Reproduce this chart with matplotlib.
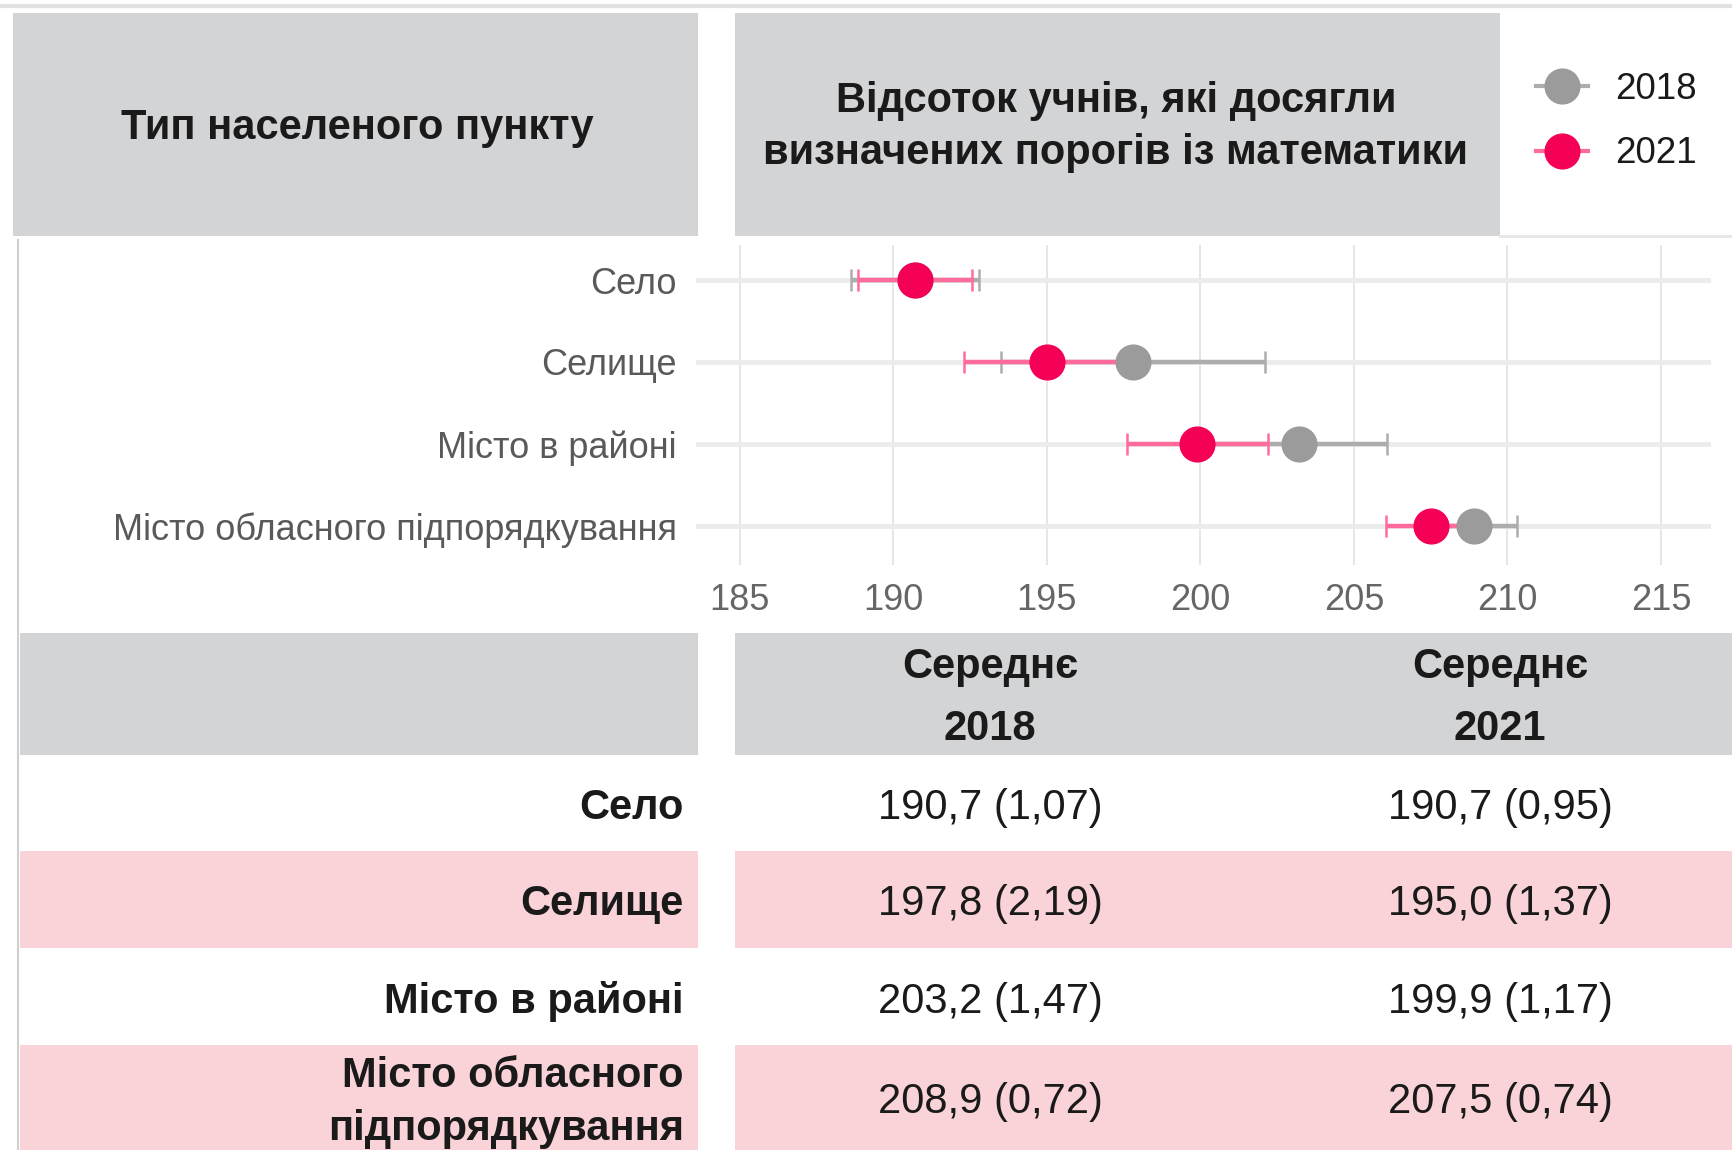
import matplotlib
matplotlib.use('Agg')
import matplotlib.pyplot as plt
from matplotlib.patches import Rectangle
from matplotlib.lines import Line2D
import numpy as np

plt.rcParams['font.family'] = ['Liberation Sans', 'DejaVu Sans']

# ---------------- data ----------------
categories = ['Село', 'Селище', 'Місто в районі', 'Місто обласного підпорядкування']
table_labels = ['Село', 'Селище', 'Місто в районі', 'Місто обласного\nпідпорядкування']
mean_2018 = [190.7, 197.8, 203.2, 208.9]
se_2018 = [1.07, 2.19, 1.47, 0.72]
mean_2021 = [190.7, 195.0, 199.9, 207.5]
se_2021 = [0.95, 1.37, 1.17, 0.74]
years = ['2018', '2021']
x_ticks = [185, 190, 195, 200, 205, 210, 215]
header_left = 'Тип населеного пункту'
header_right = 'Відсоток учнів, які досягли\nвизначених порогів із математики'
col_headers = ['Середнє\n2018', 'Середнє\n2021']

# ---------------- style ----------------
C_GRAY_BOX = '#d3d4d6'
C_PINK_BAND = '#f9d3d7'
C_2018 = '#9b9b9b'
C_2018_BAR = '#adadad'
C_2021 = '#f50057'
C_2021_BAR = '#ff6b9a'
C_TEXT = '#1a1a1a'
FS_BOLD = 30
FS_VAL = 30
FS_CAT = 26
FS_TICK = 26
FS_LEG = 26.5


def fmt(v, d):
    return f'{v:.{d}f}'.replace('.', ',')


W, H = 1733, 1150
fig = plt.figure(figsize=(W / 100, H / 100), dpi=100)
bg = fig.add_axes([0, 0, 1, 1])
bg.set_xlim(0, W)
bg.set_ylim(H, 0)
bg.axis('off')


def rect(x0, y0, x1, y1, color):
    bg.add_patch(Rectangle((x0, y0), x1 - x0, y1 - y0, color=color, lw=0))


# top thin line
bg.plot([0, W], [6, 6], color='#e2e2e2', lw=3)
# header boxes
rect(13, 13, 698, 236, C_GRAY_BOX)
rect(735, 13, 1500, 236, C_GRAY_BOX)
bg.plot([1500, W], [236, 236], color='#e6e6e6', lw=2)
bg.text(357, 128, header_left, ha='center', va='center', fontsize=FS_BOLD,
        fontweight='bold', color=C_TEXT)
bg.text(1116, 127, header_right, ha='center', va='center', fontsize=FS_BOLD,
        fontweight='bold', color=C_TEXT, linespacing=1.38)

# left vertical thin line
bg.plot([18, 18], [240, H], color='#d0d0d0', lw=1.5)

# table
rect(20, 633, 698, 755, C_GRAY_BOX)
rect(735, 633, W, 755, C_GRAY_BOX)
col_x = [990, 1500]
for cx, txt in zip(col_x, col_headers):
    bg.text(cx, 698, txt, ha='center', va='center', fontsize=FS_BOLD,
            fontweight='bold', color=C_TEXT, linespacing=1.7)
row_edges = [755, 851, 948, 1045, 1150]
for i, lab in enumerate(table_labels):
    y0, y1 = row_edges[i], row_edges[i + 1]
    if i % 2 == 1:
        rect(20, y0, 698, y1, C_PINK_BAND)
        rect(735, y0, W, y1, C_PINK_BAND)
    yc = (y0 + y1) / 2
    bg.text(684, yc + 5, lab, ha='right', va='center', fontsize=FS_BOLD,
            fontweight='bold', color=C_TEXT, linespacing=1.45)
    bg.text(col_x[0], yc + 5, f'{fmt(mean_2018[i], 1)} ({fmt(se_2018[i], 2)})',
            ha='center', va='center', fontsize=FS_VAL, color=C_TEXT)
    bg.text(col_x[1], yc + 5, f'{fmt(mean_2021[i], 1)} ({fmt(se_2021[i], 2)})',
            ha='center', va='center', fontsize=FS_VAL, color=C_TEXT)

# ---------------- chart ----------------
ax = fig.add_axes([696 / W, 1 - 565 / H, (1711 - 696) / W, (565 - 245) / H])
ax.set_facecolor('none')
y = np.arange(len(categories))
z = 1.96
ax.errorbar(mean_2018, y, xerr=z * np.array(se_2018), fmt='none',
            ecolor=C_2018_BAR, elinewidth=3.2, capsize=8, capthick=1.8, zorder=3)
ax.errorbar(mean_2021, y, xerr=z * np.array(se_2021), fmt='none',
            ecolor=C_2021_BAR, elinewidth=3.2, capsize=8, capthick=1.8, zorder=4)
ax.plot(mean_2018, y, 'o', color=C_2018, ms=25, ls='none', zorder=5)
ax.plot(mean_2021, y, 'o', color=C_2021, ms=25, ls='none', zorder=6)

ax.set_xlim(183.57, 216.63)
ax.set_ylim(3.476, -0.427)
ax.set_xticks(x_ticks)
ax.set_xticklabels([str(t) for t in x_ticks])
ax.set_yticks(y)
ax.set_yticklabels(categories)
ax.tick_params(axis='x', length=0, labelsize=FS_TICK, labelcolor='#666666', pad=13)
ax.tick_params(axis='y', length=0, labelsize=FS_CAT, labelcolor='#595959', pad=14)
ax.grid(axis='x', color='#e4e4e4', lw=1.3, zorder=0)
ax.grid(axis='y', color='#ececec', lw=3.5, zorder=0)
ax.set_axisbelow(True)
for s in ax.spines.values():
    s.set_visible(False)

handles = [
    Line2D([], [], color=C_2018_BAR, lw=3, marker='o', ms=25, mfc=C_2018, mec=C_2018),
    Line2D([], [], color=C_2021_BAR, lw=3, marker='o', ms=25, mfc=C_2021, mec=C_2021),
]
fig.legend(handles, years, loc='upper left', bbox_to_anchor=(1536 / W, 1 - 72 / H),
           frameon=False, fontsize=FS_LEG, handlelength=1.4, handletextpad=0.75,
           labelspacing=0.8, borderpad=0, borderaxespad=0, labelcolor=C_TEXT)

fig.savefig('out.png', dpi=100)
